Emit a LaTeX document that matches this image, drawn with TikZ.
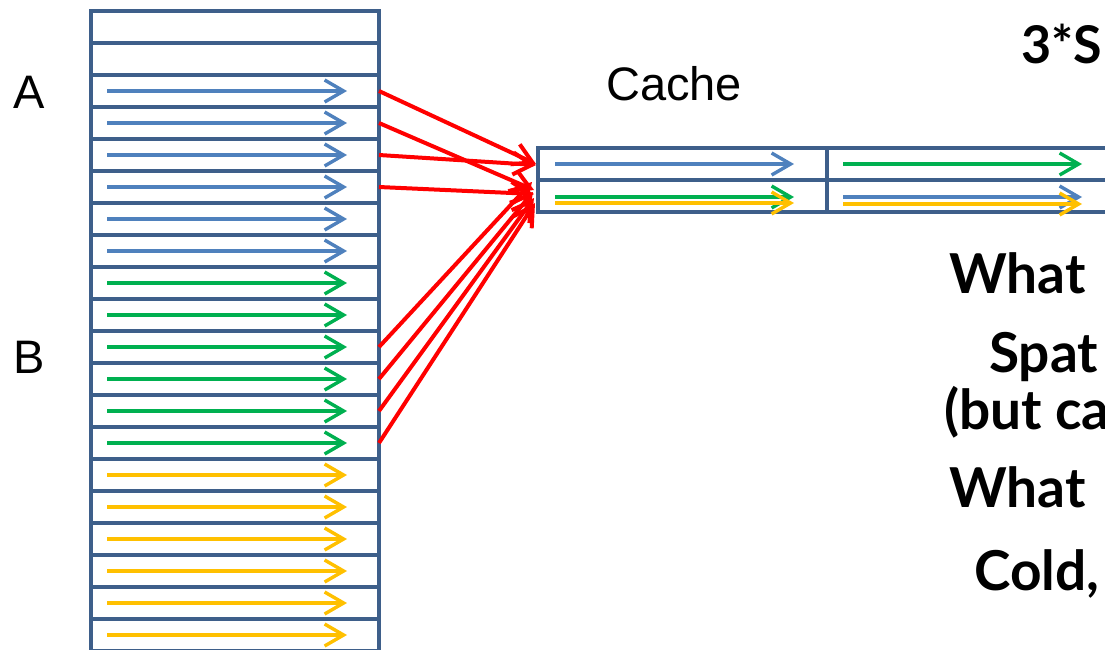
\documentclass[tikz,border=0pt]{standalone}
\usepackage{fontspec}
\setmainfont{Liberation Sans}
\newfontfamily\boldfont{Lato}
\usetikzlibrary{arrows.meta,calc}
\definecolor{boxc}{HTML}{3E5F8A}
\definecolor{blu}{HTML}{4F81BD}
\definecolor{grn}{HTML}{00B050}
\definecolor{ylw}{HTML}{FFC000}
\definecolor{rd}{HTML}{FF0000}
\begin{document}
\begin{tikzpicture}[x=1pt,y=-1pt,
  cell/.style={draw=boxc, line width=3.6pt, minimum width=288pt, minimum height=32pt, inner sep=0pt, outer sep=0pt},
  ccell/.style={draw=boxc, line width=3.6pt, minimum width=289pt, minimum height=32pt, inner sep=0pt, outer sep=0pt},
  dat/.style={line width=3.4pt, -{Straight Barb[length=19pt,width=22pt]}},
  link/.style={draw=rd, line width=4pt, -{Straight Barb[length=19pt,width=22pt]}},
  lbl/.style={font=\fontsize{47}{52}\selectfont, inner sep=0pt, anchor=base west},
  big/.style={font=\boldfont\bfseries\fontsize{55}{60}\selectfont, inner sep=0pt, anchor=base west}]
\useasboundingbox (0,0) rectangle (1105,649);
\clip (0,0) rectangle (1105,649);
\fill[white] (0,0) rectangle (1105,649);
% memory column
\foreach \i in {0,...,19} {
  \node[cell] (m\i) at (235,{27+32*\i}) {};
}
\foreach \i in {2,...,7} {
  \draw[dat,blu] ($(m\i.west)+(16,0)$) -- ($(m\i.east)+(-32,0)$);
}
\foreach \i in {8,...,13} {
  \draw[dat,grn] ($(m\i.west)+(16,0)$) -- ($(m\i.east)+(-32,0)$);
}
\foreach \i in {14,...,19} {
  \draw[dat,ylw] ($(m\i.west)+(16,0)$) -- ($(m\i.east)+(-32,0)$);
}
% cache
\node[ccell] (c11) at (682.5,164) {};
\node[ccell] (c21) at (682.5,196) {};
\node[ccell] (c12) at (971.5,164) {};
\node[ccell] (c22) at (971.5,196) {};
\node[ccell] (c13) at (1260.5,164) {};
\node[ccell] (c23) at (1260.5,196) {};
\draw[dat,blu] ($(c11.west)+(17,0)$) -- ($(c11.east)+(-33,0)$);
\draw[dat,grn] ($(c21.west)+(17,1)$) -- ($(c21.east)+(-33,1)$);
\draw[dat,ylw] ($(c21.west)+(17,7)$) -- ($(c21.east)+(-33,7)$);
\draw[dat,grn] ($(c12.west)+(16,0)$) -- ($(c12.east)+(-34,0)$);
\draw[dat,blu] ($(c22.west)+(16,1)$) -- ($(c22.east)+(-34,1)$);
\draw[dat,ylw] ($(c22.west)+(16,8)$) -- ($(c22.east)+(-34,8)$);
% red links
\coordinate (t1) at (536,164);
\coordinate (t2) at (534,190);
\coordinate (t3) at (536,165);
\coordinate (t4) at (534,194);
\coordinate (t5) at (532,182);
\coordinate (t6) at (533,192);
\coordinate (t7) at (534,198);
\coordinate (t8) at (535,203);
\draw[link] (m2.east) -- (t1);
\draw[link] (m3.east) -- (t2);
\draw[link] (m4.east) -- (t3);
\draw[link] (m5.east) -- (t4);
\draw[link] (m10.east) -- (t5);
\draw[link] (m11.east) -- (t6);
\draw[link] (m12.east) -- (t7);
\draw[link] (m13.east) -- (t8);
% labels
\node[lbl] (la) at (13,108) {A};
\node[lbl] (lb) at (13,373) {B};
\node[lbl] (lc) at (606,100) {Cache};
\node[big, font=\boldfont\bfseries\fontsize{52}{56}\selectfont] (r0) at (1021,63) {3*S};
\node[big] (r1) at (949,293) {What};
\node[big] (r2) at (989,372) {Spat};
\node[big] (r3) at (944,429) {(but ca};
\node[big] (r4) at (949,507) {What};
\node[big] (r5) at (974,590) {Cold,};
\end{tikzpicture}
\end{document}
